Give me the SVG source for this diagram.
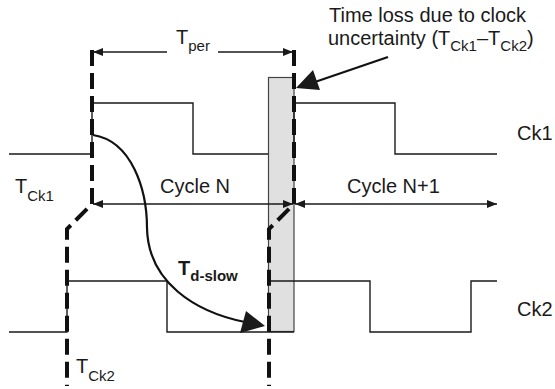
<svg xmlns="http://www.w3.org/2000/svg" width="555" height="389" viewBox="0 0 555 389">
<style>
text{font-family:"Liberation Sans",Arial,sans-serif;fill:#1a1a1a}
.t{font-size:20px}
.s{font-size:15px}
.w{fill:none;stroke:#1a1a1a;stroke-width:1.4}
.d{fill:none;stroke:#111;stroke-width:4;stroke-dasharray:16 7}
.a{fill:none;stroke:#1a1a1a;stroke-width:1.4}
.h{fill:#1a1a1a}
</style>
<defs>
<marker id="ah" viewBox="0 0 10 8" refX="10" refY="4" markerWidth="10" markerHeight="8" markerUnits="userSpaceOnUse" orient="auto-start-reverse">
<path d="M0,0 L10,4 L0,8 z" fill="#1a1a1a"/>
</marker>
</defs>
<rect id="loss-region" x="268.5" y="77.5" width="25.5" height="254" fill="#e0e0e0" stroke="#444" stroke-width="1.2"/>
<g id="ck1">
<path class="w" d="M9,154 H92 V103 H193 V154 H268 M294,154 V103 H395 V154 H497"/>
<text class="t" x="517" y="140">Ck1</text>
</g>
<g id="ck2">
<path class="w" d="M9,332 H67 V281 H167 V332 H294 M269,281 H370 V332 H471 V281 H497"/>
<text class="t" x="517" y="316">Ck2</text>
</g>
<g id="connectors">
<path class="d" d="M92,50 V204 L67,229 V386"/>
<path class="d" d="M294,50 V204 L269,229 V386"/>
<path class="a" d="M93,52 H167" marker-start="url(#ah)"/>
<path class="a" d="M218,52 H293" marker-end="url(#ah)"/>
<path class="a" d="M93,204 H293" marker-start="url(#ah)" marker-end="url(#ah)"/>
<path class="a" d="M295,204 H497" marker-start="url(#ah)" marker-end="url(#ah)"/>
<path fill="none" stroke="#111" stroke-width="2.2" d="M93,135 C132,141 147,190 147,228 C148,282 195,312 245,322"/>
<path class="h" d="M265,326 L240,333 L246,311 z"/>
<path fill="none" stroke="#111" stroke-width="2.2" d="M388,57 L312,83"/>
<path class="h" d="M296,88 L313,70 L320,90 z"/>
</g>
<g id="labels">
<text class="t" x="176" y="44">T<tspan class="s" dy="7">per</tspan></text>
<text class="t" x="15" y="193">T<tspan class="s" dy="8">Ck1</tspan></text>
<text class="t" x="160" y="193">Cycle N</text>
<text class="t" x="347" y="193">Cycle N+1</text>
<text class="t" x="178" y="275" font-weight="bold">T<tspan class="s" dy="6">d-slow</tspan></text>
<text class="t" x="76" y="373">T<tspan class="s" dy="8">Ck2</tspan></text>
<text class="t" x="329" y="22">Time loss due to clock</text>
<text class="t" x="328" y="45">uncertainty (T<tspan class="s" dy="6">Ck1</tspan><tspan dy="-6">–T</tspan><tspan class="s" dy="6">Ck2</tspan><tspan dy="-6">)</tspan></text>
</g>
</svg>
